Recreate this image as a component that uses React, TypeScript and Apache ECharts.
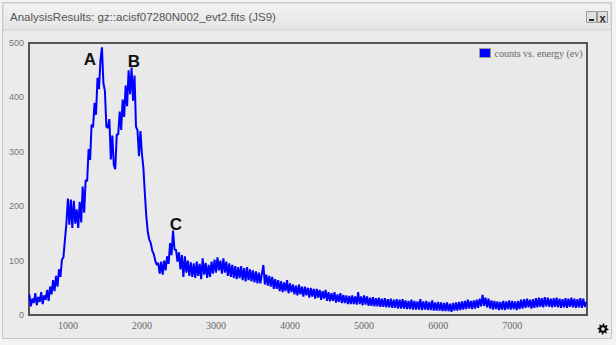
import React, { useEffect, useRef } from "react";
import * as echarts from "echarts";

const TITLE = "AnalysisResults: gz::acisf07280N002_evt2.fits (JS9)";
const SERIES_NAME = "counts vs. energy (ev)";
const ENERGY_START = 480;
const ENERGY_STEP = 20;
// counts per 20 eV bin (480 eV .. 8000 eV)
const COUNTS = [
  38, 16, 30, 22, 40, 18, 33, 24, 42, 20, 36, 28, 46, 26, 52, 38, 64, 44, 72, 52,
  84, 70, 102, 106, 138, 168, 214, 166, 212, 160, 210, 168, 194, 160, 208, 170, 236, 188, 248, 246,
  305, 285, 350, 345, 390, 368, 436, 415, 468, 492, 426, 412, 346, 344, 360, 286, 330, 276, 268, 332,
  332, 374, 340, 396, 364, 422, 384, 450, 406, 455, 394, 440, 346, 340, 292, 338, 296, 270, 222, 180,
  152, 138, 132, 118, 112, 100, 92, 96, 76, 98, 74, 100, 82, 108, 94, 132, 110, 155, 120, 120,
  98, 115, 84, 110, 70, 108, 78, 100, 72, 97, 70, 95, 68, 98, 72, 94, 66, 104, 74, 96,
  68, 92, 70, 98, 76, 102, 78, 106, 82, 100, 76, 104, 78, 98, 72, 95, 70, 92, 68, 90,
  66, 88, 68, 90, 64, 86, 62, 88, 64, 84, 62, 82, 60, 80, 58, 78, 58, 76, 92, 56,
  74, 54, 72, 52, 70, 48, 66, 48, 64, 44, 62, 42, 60, 44, 64, 40, 58, 42, 56, 38,
  54, 36, 56, 38, 52, 34, 52, 36, 50, 32, 50, 34, 48, 30, 48, 32, 46, 28, 44, 30,
  46, 26, 42, 25, 40, 26, 42, 23, 38, 24, 40, 22, 37, 22, 36, 20, 35, 20, 36, 20,
  34, 19, 42, 20, 34, 18, 36, 19, 34, 17, 32, 17, 33, 16, 31, 16, 32, 15, 30, 15,
  31, 14, 29, 14, 30, 13, 28, 13, 29, 12, 28, 12, 29, 12, 27, 11, 26, 11, 28, 10,
  26, 10, 25, 10, 29, 9, 25, 10, 26, 9, 24, 9, 27, 8, 23, 8, 24, 8, 23, 7,
  22, 7, 23, 7, 21, 6, 22, 8, 23, 8, 24, 9, 25, 10, 26, 11, 28, 12, 26, 11,
  27, 12, 28, 13, 30, 16, 37, 17, 32, 14, 30, 12, 27, 10, 26, 11, 25, 9, 24, 10,
  26, 9, 25, 11, 27, 10, 26, 11, 25, 9, 26, 11, 28, 12, 29, 13, 30, 14, 28, 12,
  29, 13, 31, 14, 32, 15, 31, 14, 33, 16, 32, 15, 30, 14, 31, 15, 32, 14, 30, 13,
  29, 14, 31, 13, 30, 15, 32, 14, 30, 13, 29, 14, 31, 13, 30, 15, 24,
];
const X_TICKS = [1000, 2000, 3000, 4000, 5000, 6000, 7000];
const X_MIN = 475;
const X_MAX = 8010;
const Y_MIN = 0;
const Y_MAX = 500;
const Y_STEP = 100;
const PEAK_LABELS = ["A", "B", "C"];

function gearPoints(cx: number, cy: number) {
  const pts: number[][] = [];
  const teeth = 8;
  for (let i = 0; i < teeth * 4; i++) {
    const a = (i / (teeth * 4)) * Math.PI * 2;
    const r = i % 4 === 0 || i % 4 === 1 ? 5.5 : 3.9;
    pts.push([cx + r * Math.cos(a), cy + r * Math.sin(a)]);
  }
  return pts;
}

export default function App() {
  const ref = useRef<HTMLDivElement>(null);
  useEffect(() => {
    document.body.style.margin = "0";
    const chart = echarts.init(ref.current!, undefined, { renderer: "svg" });
    const data = COUNTS.map((c, i) => [ENERGY_START + i * ENERGY_STEP, c]);
    const labelPos = [
      [90, 59],
      [134, 61],
      [176, 224],
    ];
    chart.setOption({
      animation: false,
      backgroundColor: "#f4f4f4",
      grid: {
        left: 29,
        right: 29,
        top: 43,
        bottom: 30,
        show: true,
        backgroundColor: "#e9e9e9",
        borderColor: "#545454",
        borderWidth: 2,
        z: 1,
      },
      legend: {
        data: [SERIES_NAME],
        left: 479,
        top: 48,
        icon: "rect",
        itemWidth: 11,
        itemHeight: 9,
        itemGap: 4,
        padding: 0,
        itemStyle: { borderColor: "#999", borderWidth: 1 },
        textStyle: { fontFamily: "Liberation Serif", fontSize: 10, color: "#666", padding: [0, 0, 0, -1] },
      },
      xAxis: {
        type: "value",
        min: X_MIN,
        max: X_MAX,
        axisLine: { show: false },
        axisTick: { show: false, customValues: X_TICKS },
        axisLabel: {
          customValues: X_TICKS,
          formatter: (v: number) => String(v),
          fontFamily: "Liberation Serif",
          fontSize: 10,
          color: "#666",
          margin: 5,
        },
        splitLine: { show: true, lineStyle: { color: "#d2d2d2", width: 1 } },
      },
      yAxis: {
        type: "value",
        min: Y_MIN,
        max: Y_MAX,
        interval: Y_STEP,
        axisLine: { show: false },
        axisTick: { show: false },
        axisLabel: { fontFamily: "Liberation Sans", fontSize: 9, color: "#777", margin: 5 },
        splitLine: { show: true, lineStyle: { color: "#d2d2d2", width: 1 } },
      },
      series: [
        {
          name: SERIES_NAME,
          type: "line",
          data,
          showSymbol: false,
          color: "#0000ff",
          lineStyle: { color: "#0000ff", width: 2 },
          z: 3,
        },
      ],
      graphic: [
        {
          type: "rect",
          shape: { x: 2.5, y: 2.5, width: 609, height: 336 },
          style: { fill: "#ebebeb", stroke: "#c4c4c4", lineWidth: 1 },
          z: -10,
          silent: true,
        },
        {
          type: "rect",
          shape: { x: 3, y: 3, width: 608, height: 27 },
          style: {
            fill: new echarts.graphic.LinearGradient(0, 0, 0, 1, [
              { offset: 0, color: "#f3f3f3" },
              { offset: 1, color: "#e4e4e4" },
            ]),
            stroke: "#d0d0d0",
            lineWidth: 1,
          },
          z: -9,
          silent: true,
        },
        {
          type: "text",
          x: 10,
          y: 17,
          style: {
            text: TITLE,
            fontFamily: "Liberation Sans",
            fontSize: 11.5,
            fill: "#555",
            verticalAlign: "middle",
          },
        },
        {
          type: "rect",
          shape: { x: 586.5, y: 11.5, width: 10, height: 11 },
          style: { fill: "#e0e0e0", stroke: "#999", lineWidth: 1 },
        },
        {
          type: "rect",
          shape: { x: 597.5, y: 11.5, width: 10, height: 11 },
          style: { fill: "#e0e0e0", stroke: "#999", lineWidth: 1 },
        },
        {
          type: "rect",
          shape: { x: 589, y: 19, width: 5, height: 2 },
          style: { fill: "#222" },
        },
        {
          type: "text",
          x: 602.5,
          y: 17.5,
          style: {
            text: "x",
            fontFamily: "Liberation Sans",
            fontWeight: "bold",
            fontSize: 11,
            fill: "#222",
            align: "center",
            verticalAlign: "middle",
          },
        },
        {
          type: "polygon",
          shape: { points: gearPoints(603, 329) },
          style: { fill: "#111" },
        },
        {
          type: "circle",
          shape: { cx: 603, cy: 329, r: 1.7 },
          style: { fill: "#ebebeb" },
        },
        ...PEAK_LABELS.map((t, i) => ({
          type: "text",
          x: labelPos[i][0],
          y: labelPos[i][1],
          z: 10,
          style: {
            text: t,
            fontFamily: "Liberation Sans",
            fontWeight: "bold",
            fontSize: 17,
            fill: "#111",
            align: "center",
            verticalAlign: "middle",
          },
        })),
      ],
    });
    return () => chart.dispose();
  }, []);
  return (
    <div
      ref={ref}
      style={{ position: "absolute", left: 0, top: 0, width: 616, height: 345 }}
    />
  );
}
